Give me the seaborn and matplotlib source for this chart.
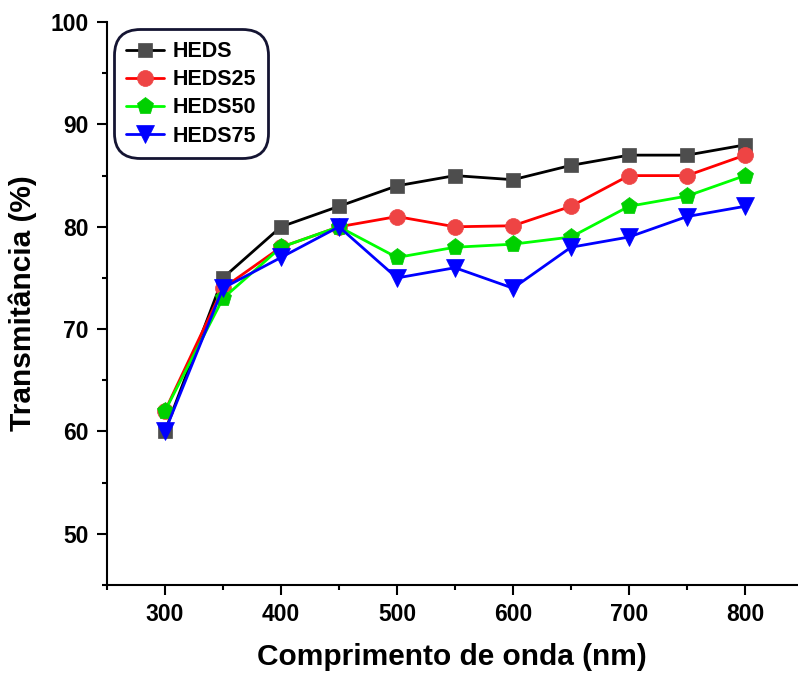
import matplotlib
matplotlib.use("Agg")
import matplotlib.pyplot as plt
from matplotlib.ticker import MultipleLocator
import seaborn as sns
import pandas as pd

wavelength = [300, 350, 400, 450, 500, 550, 600, 650, 700, 750, 800]
heds = [60, 75, 80, 82, 84, 85, 84.6, 86, 87, 87, 88]
heds25 = [62, 74, 78, 80, 81, 80, 80.1, 82, 85, 85, 87]
heds50 = [62, 73, 78, 80, 77, 78, 78.3, 79, 82, 83, 85]
heds75 = [60, 74, 77, 80, 75, 76, 74, 78, 79, 81, 82]

series_names = ["HEDS", "HEDS25", "HEDS50", "HEDS75"]
series_values = [heds, heds25, heds50, heds75]
line_colors = ["#000000", "#ff0000", "#00ff00", "#0000ff"]
marker_colors = ["#4d4d4d", "#ee4444", "#00d000", "#0000ff"]
marker_shapes = ["s", "o", "p", "v"]
marker_sizes = [10.5, 11.5, 12.5, 12.5]

sns.set_theme(style="ticks")
plt.rcParams["font.family"] = ["Liberation Sans", "DejaVu Sans"]
plt.rcParams["font.weight"] = "bold"
for key in ["text.color", "axes.labelcolor", "xtick.color", "ytick.color",
            "axes.edgecolor"]:
    plt.rcParams[key] = "black"

fig = plt.figure(figsize=(7.98, 6.75), dpi=100)
ax = fig.add_axes([0.134, 0.1333, 0.865, 0.834])

for name, vals, lc, mc, mk, ms in zip(series_names, series_values, line_colors,
                                      marker_colors, marker_shapes, marker_sizes):
    df = pd.DataFrame({"wl": wavelength, "T": vals})
    sns.lineplot(data=df, x="wl", y="T", ax=ax, color=lc, linewidth=2,
                 marker=mk, markersize=ms, markerfacecolor=mc,
                 markeredgecolor=mc, markeredgewidth=0.5, label=name)

ax.set_xlim(250, 845)
ax.set_ylim(45, 100)
ax.xaxis.set_minor_locator(MultipleLocator(50))
ax.yaxis.set_minor_locator(MultipleLocator(5))
ax.set_yticks([50, 60, 70, 80, 90, 100])
ax.set_xticks([300, 400, 500, 600, 700, 800])

ax.tick_params(axis="both", which="major", direction="out", length=7, width=1.5,
               labelsize=16.5, colors="black", pad=6)
ax.tick_params(axis="both", which="minor", direction="out", length=3.5, width=1.5)
for lbl in ax.get_xticklabels() + ax.get_yticklabels():
    lbl.set_fontweight("bold")

for side in ["top", "right"]:
    ax.spines[side].set_visible(False)
for side in ["left", "bottom"]:
    ax.spines[side].set_linewidth(1.5)
    ax.spines[side].set_color("black")

ax.set_xlabel("Comprimento de onda (nm)", fontsize=21.5, fontweight="bold", labelpad=12)
ax.set_ylabel("Transmitância (%)", fontsize=21.5, fontweight="bold", labelpad=10)

leg = ax.legend(loc="upper left", bbox_to_anchor=(0.012, 0.985), frameon=True,
                fancybox=True, framealpha=1, prop={"weight": "bold", "size": 15.5},
                handlelength=1.75, labelspacing=0.33, borderpad=0.25,
                handletextpad=0.4, borderaxespad=0.25)
frame = leg.get_frame()
frame.set_edgecolor("#141432")
frame.set_linewidth(2)
frame.set_boxstyle("round,pad=0.3,rounding_size=1.2")

fig.savefig("out.png", dpi=100)
